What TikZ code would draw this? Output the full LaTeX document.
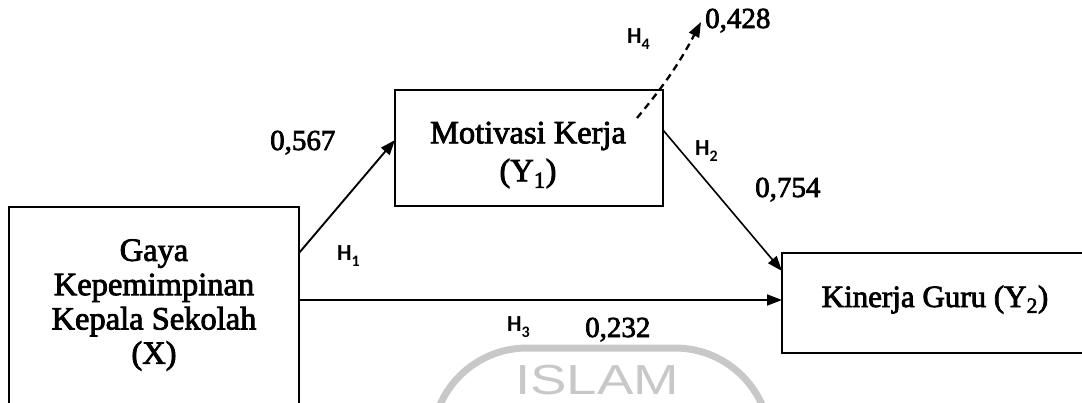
\documentclass[tikz,border=0pt]{standalone}
\usepackage{fontspec}
\setmainfont{Liberation Serif}[FakeBold=2.5]
\newfontfamily\hfont{Carlito}
\newfontfamily\wmfont{Liberation Sans}
\usetikzlibrary{arrows.meta}
\definecolor{wm}{HTML}{C8C8C8}
\newcommand\hsub[1]{H\raisebox{-0.3em}{\fontsize{16}{16}\selectfont #1}}
\begin{document}
\begin{tikzpicture}[x=1pt,y=-1pt,
  box/.style={draw,line width=1.9pt,rectangle,inner sep=0pt,outer sep=0pt,anchor=north west},
  boxtext/.style={font=\fontsize{32.5}{34.3}\selectfont,align=center,inner sep=0pt},
  num/.style={font=\fontsize{29}{30}\selectfont,inner sep=0pt,anchor=base west},
  hyp/.style={font=\hfont\bfseries\fontsize{23}{24}\selectfont,inner sep=0pt,anchor=base west},
  arr/.style={line width=1.9pt,-{Triangle[length=15pt,width=11pt]}},
  dasharr/.style={line width=2.3pt,dash pattern=on 7pt off 5pt,-{Triangle[length=15pt,width=11pt]}},
  wmline/.style={draw=wm,line width=7pt,rounded corners=95pt},
]
\useasboundingbox (0,0) rectangle (1082,402);
\clip (0,0) rectangle (1082,402);
% watermark
\draw[wmline] (432,440) -- (432,348) -- (770,348) -- (770,440);
\node[anchor=base west,inner sep=0pt,text=wm,font=\wmfont\fontsize{42}{42}\selectfont] (wmtext) at (515,394) {\scalebox{1.3}[1]{ISLAM}};
% boxes
\node[box,minimum width=290pt,minimum height=240pt] (X) at (9,207) {};
\node[box,minimum width=268pt,minimum height=116pt] (Y1) at (395,90) {};
\node[box,minimum width=400pt,minimum height=100pt] (Y2) at (782,253) {};
% box texts
\node[boxtext] (Xt) at (154,305) {Gaya\\Kepemimpinan\\Kepala Sekolah\\(X)};
\node[boxtext,font=\fontsize{32.5}{38}\selectfont] (Y1t) at (528,155) {Motivasi Kerja\\(Y\textsubscript{1})};
\node[boxtext,font=\fontsize{31}{34}\selectfont,anchor=base] (Y2t) at (935,307) {Kinerja Guru (Y\textsubscript{2})};
% connectors
\draw[arr] ([yshift=-46pt]X.north east) -- ([yshift=-50pt]Y1.north west);
\draw[arr,line width=1.6pt] ([yshift=-40pt]Y1.north east) -- ([yshift=-18pt]Y2.north west);
\draw[arr] ([yshift=-93pt]X.north east) -- ([yshift=-47pt]Y2.north west);
\coordinate (h4s) at (637,118);
\coordinate (h4e) at (701,22);
\draw[dasharr] (h4s) to[bend right=6] (h4e);
% labels
\node[num] (n1) at (270,150) {0,567};
\node[num] (n4) at (705,28) {0,428};
\node[num] (n2) at (755,197) {0,754};
\node[num] (n3) at (585,337) {0,232};
\node[hyp] (h1) at (337,260) {\hsub{1}};
\node[hyp] (h2) at (695,155) {\hsub{2}};
\node[hyp] (h3) at (507,331) {\hsub{3}};
\node[hyp] (h4) at (627,43) {\hsub{4}};
\end{tikzpicture}
\end{document}
